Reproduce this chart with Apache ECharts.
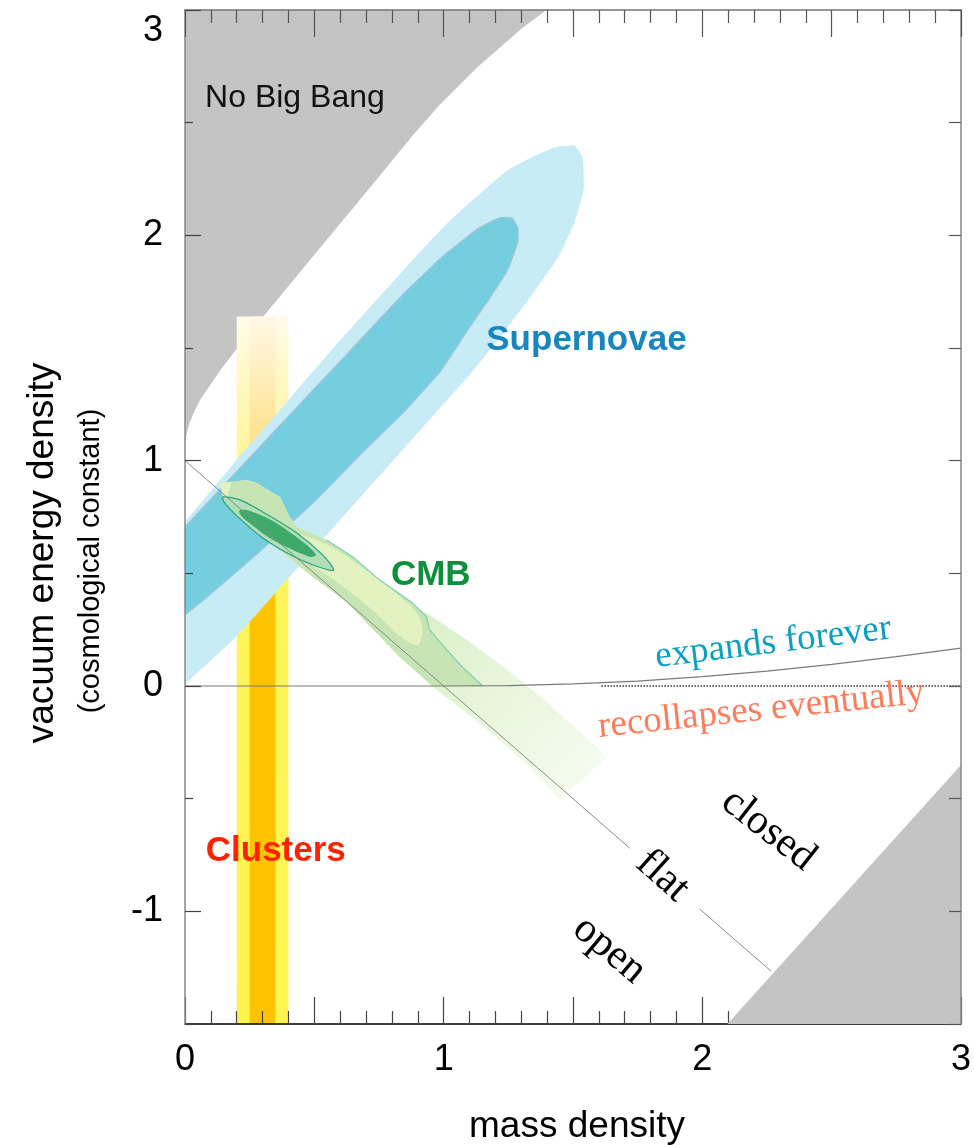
<!DOCTYPE html>
<html><head><meta charset="utf-8">
<script src="https://cdn.jsdelivr.net/npm/echarts@6/dist/echarts.min.js"></script>
<style>html,body{margin:0;padding:0;background:#fff}#c{width:974px;height:1145px}</style>
</head><body><div id="c"></div>
<script>
// ---- tick labels ----
const xTickLabels = [0, 1, 2, 3];
const yTickLabels = [-1, 0, 1, 2, 3];
const yHalfTicks = [-1.5, -0.5, 0.5, 1.5, 2.5];

// ---- regions (mass density, vacuum energy density) ----
const noBigBang = [[0,3],[0,1.079],[0.008,1.127],[0.019,1.172],[0.039,1.225],[0.058,1.269],[0.097,1.336],[0.143,1.411],[0.212,1.514],[0.378,1.744],[0.548,1.98],[0.714,2.21],[0.876,2.437],[0.985,2.579],[1.127,2.743],[1.305,2.921],[1.398,3]];
const lowerRightBound = [[2.097,-1.5],[3,-0.351],[3,-1.5]];

const clustersOuterX = [0.20, 0.40];
const clustersInnerX = [0.25, 0.35];
const clustersY = [-1.5, 1.64];

const snOuter = [[-0.05,0.665],[0,0.728],[0.174,0.968],[0.367,1.225],[0.56,1.482],[0.88,1.891],[1.023,2.064],[1.243,2.286],[1.359,2.357],[1.436,2.392],[1.506,2.397],[1.537,2.348],[1.541,2.201],[1.506,2.059],[1.448,1.913],[1.332,1.722],[1.216,1.545],[1.1,1.38],[0.869,1.083],[0.637,0.786],[0.417,0.502],[0.201,0.222],[0,0.009],[-0.05,-0.04]];
const snInner = [[-0.05,0.645],[0,0.706],[0.278,1.047],[0.456,1.265],[0.653,1.505],[0.853,1.749],[1.004,1.913],[1.131,2.028],[1.216,2.077],[1.263,2.077],[1.286,2.033],[1.286,1.971],[1.247,1.846],[1.178,1.722],[1.1,1.593],[0.985,1.394],[0.83,1.198],[0.703,1.056],[0.494,0.812],[0.251,0.559],[0,0.315],[-0.05,0.28]];

const cmbBand = [[0.135,0.901],[0.239,0.914],[0.278,0.901],[0.367,0.839],[0.405,0.75],[0.432,0.706],[0.548,0.648],[0.649,0.573],[0.753,0.47],[0.83,0.395],[0.958,0.306],[1.089,0.204],[1.216,0.098],[1.344,-0.018],[1.475,-0.151],[1.602,-0.284],[1.625,-0.32],[1.448,-0.506],[1.344,-0.373],[1.216,-0.24],[1.089,-0.12],[0.958,-0.004],[0.83,0.129],[0.625,0.373],[0.494,0.484],[0.367,0.604],[0.239,0.737],[0.147,0.826]];
const cmbOuterContour = [[0.18,0.906],[0.239,0.914],[0.278,0.901],[0.367,0.839],[0.405,0.75],[0.432,0.706],[0.548,0.648],[0.649,0.573],[0.753,0.47],[0.88,0.368],[0.934,0.306],[0.946,0.249],[1.012,0.16],[1.073,0.084],[1.151,0],[0.958,0],[0.83,0.129],[0.625,0.373],[0.494,0.484],[0.367,0.604],[0.239,0.737],[0.16,0.82]];
const cmbContourEdge = [[0.548,0.648],[0.649,0.573],[0.753,0.47],[0.88,0.368],[0.934,0.306],[0.946,0.249],[1.012,0.16],[1.073,0.084],[1.151,0]];
const cmbCore = [[0.432,0.67],[0.56,0.621],[0.676,0.533],[0.792,0.435],[0.888,0.337],[0.919,0.257],[0.9,0.182],[0.83,0.222],[0.734,0.328],[0.618,0.435],[0.521,0.515],[0.444,0.581]];
const cmb95 = [[0.147,0.839],[0.212,0.826],[0.301,0.772],[0.432,0.679],[0.533,0.581],[0.575,0.515],[0.541,0.519],[0.432,0.568],[0.301,0.657],[0.193,0.763],[0.151,0.817]];
const cmb68 = [[0.212,0.781],[0.251,0.777],[0.34,0.732],[0.471,0.626],[0.506,0.581],[0.483,0.573],[0.34,0.648],[0.239,0.732],[0.212,0.763]];

const flatLineA = [[0,1],[1.72,-0.72]];
const flatLineB = [[1.99,-0.99],[2.266,-1.266]];
const expandBoundary = [[0,0],[1,0],[1.25,0.002],[1.5,0.009],[1.75,0.022],[2,0.042],[2.25,0.066],[2.5,0.096],[2.75,0.13],[3,0.168]];
const zeroDotted = [[1.61,0],[3,0]];

const annotations = [
  {text:'No Big Bang', x:0.425, y:2.61},
  {text:'Supernovae', x:1.552, y:1.536},
  {text:'CMB', x:0.95, y:0.493},
  {text:'Clusters', x:0.351, y:-0.732},
  {text:'expands forever', x:2.274, y:0.191},
  {text:'recollapses eventually', x:2.228, y:-0.107},
  {text:'closed', x:2.255, y:-0.639},
  {text:'flat', x:1.846, y:-0.843},
  {text:'open', x:1.641, y:-1.172}
];
const annotationStyle = {
  'No Big Bang': {font:'32px "Liberation Sans"', fill:'#111', rot:0},
  'Supernovae': {font:'bold 35px "Liberation Sans"', fill:'#1a86be', rot:0},
  'CMB': {font:'bold 35px "Liberation Sans"', fill:'#0e8f3c', rot:0},
  'Clusters': {font:'bold 35px "Liberation Sans"', fill:'#ff2200', rot:0},
  'expands forever': {font:'37px "Liberation Serif"', fill:'#0aa0c2', rot:7},
  'recollapses eventually': {font:'37px "Liberation Serif"', fill:'#ff7b5a', rot:6},
  'closed': {font:'42px "Liberation Serif"', fill:'#000', rot:-38},
  'flat': {font:'42px "Liberation Serif"', fill:'#000', rot:-42},
  'open': {font:'42px "Liberation Serif"', fill:'#000', rot:-40}
};

const LG = (x, y, x2, y2, stops) => new echarts.graphic.LinearGradient(x, y, x2, y2, stops.map(s => ({offset:s[0], color:s[1]})));

function polySeries(pts, style, z, smooth) {
  return {
    type:'custom', silent:true, z:z, clip:true,
    data:[pts[0]],
    renderItem:(params, api) => ({
      type:'polygon',
      shape:{points: pts.map(p => api.coord(p)), smooth: smooth || 0},
      style: Object.assign({}, style)
    })
  };
}
function rectPts(xr, yr) { return [[xr[0], yr[1]], [xr[1], yr[1]], [xr[1], yr[0]], [xr[0], yr[0]]]; }
function lineSeries(data, color, width, type, z) {
  return {type:'line', data:data, symbol:'none', silent:true, z:z, animation:false,
    lineStyle:{color:color, width:width, type:type || 'solid'}};
}

const chart = echarts.init(document.getElementById('c'), null, {renderer:'canvas'});
const axisFont = {fontSize:36, fontFamily:'"Liberation Sans", Arial, sans-serif', color:'#000'};

const option = {
  animation:false,
  backgroundColor:'#fff',
  grid:{left:185, top:10, right:12, bottom:121, containLabel:false},
  xAxis:[
    {type:'value', position:'bottom', min:0, max:3, interval:0.5, z:4,
     axisLine:{onZero:false, lineStyle:{color:'#000', width:1.5}},
     axisTick:{inside:true, length:27, lineStyle:{color:'#444', width:1.2}},
     minorTick:{show:true, splitNumber:5, length:13, lineStyle:{color:'#444', width:1.2}},
     axisLabel:Object.assign({customValues:xTickLabels, margin:18}, axisFont),
     splitLine:{show:false}},
    {type:'value', position:'top', min:0, max:3, interval:0.5, z:7,
     axisLine:{onZero:false, lineStyle:{color:'#777', width:1.5}},
     axisTick:{inside:true, length:27, lineStyle:{color:'#555', width:1.2}},
     minorTick:{show:true, splitNumber:5, length:13, lineStyle:{color:'#555', width:1.2}},
     axisLabel:{show:false}, splitLine:{show:false}}
  ],
  yAxis:[
    {type:'value', position:'left', min:-1.5, max:3, interval:0.5, z:7,
     axisLine:{show:true, onZero:false, lineStyle:{color:'#888', width:1.5}},
     axisTick:{inside:true, length:16, customValues:yTickLabels, lineStyle:{color:'#444', width:1.2}},
     axisLabel:Object.assign({customValues:yTickLabels, margin:22,
       formatter:v => v === 3 ? '{t|3}' : String(v),
       rich:{t:Object.assign({padding:[42,0,0,0]}, axisFont)}}, axisFont),
     splitLine:{show:false}},
    {type:'value', position:'left', min:-1.5, max:3, interval:0.5, z:7,
     axisLine:{show:false},
     axisTick:{inside:true, length:8, customValues:yHalfTicks, lineStyle:{color:'#444', width:1.2}},
     axisLabel:{show:false}, splitLine:{show:false}},
    {type:'value', position:'right', min:-1.5, max:3, interval:0.5, z:7,
     axisLine:{show:true, onZero:false, lineStyle:{color:'#888', width:1.5}},
     axisTick:{inside:true, length:12, lineStyle:{color:'#555', width:1.2}},
     axisLabel:{show:false}, splitLine:{show:false}}
  ],
  graphic:[
    {type:'text', x:43, y:553, rotation:Math.PI/2, z:20,
     style:{text:'vacuum energy density', font:'37px "Liberation Sans"', fill:'#000', align:'center', verticalAlign:'middle'}},
    {type:'text', x:91, y:561, rotation:Math.PI/2, z:20,
     style:{text:'(cosmological constant)', font:'29px "Liberation Sans"', fill:'#000', align:'center', verticalAlign:'middle'}},
    {type:'text', x:577, y:1127, z:20,
     style:{text:'mass density', font:'37px "Liberation Sans"', fill:'#000', align:'center', verticalAlign:'middle'}}
  ],
  series:[
    polySeries(noBigBang, {fill:'#c4c4c4'}, 2),
    polySeries(rectPts(clustersOuterX, clustersY), {fill:LG(0,0,0,1,[[0,'#fffcec'],[0.08,'#fff8c8'],[0.2,'#fff59a'],[0.3,'#fff45a'],[1,'#fff44f']])}, 2),
    polySeries(rectPts(clustersInnerX, clustersY), {fill:LG(0,0,0,1,[[0,'#fff8e6'],[0.08,'#ffefbe'],[0.2,'#ffdf80'],[0.3,'#ffcd30'],[0.36,'#ffc400'],[1,'#ffc400']])}, 2),
    polySeries(snOuter, {fill:'#c7ecf5'}, 2, 0.15),
    polySeries(snInner, {fill:'#74cedd', stroke:'#9cc6df', lineWidth:1.5}, 2, 0.15),
    polySeries(cmbBand, {fill:LG(0,0,1,1,[[0,'#e2f3c0'],[0.45,'#d9f0c6'],[0.7,'#e8f6dc'],[1,'#f8fdf4']])}, 2),
    polySeries(cmbOuterContour, {fill:'#c6e4b4'}, 2),
    polySeries(cmbCore, {fill:'#e3f3bf'}, 2, 0.3),
    lineSeries(cmbContourEdge, '#7fd0b2', 1.2, 'solid', 2),
    polySeries(cmb95, {fill:'#b2dfb6', stroke:'#2aa384', lineWidth:1.2}, 2, 0.3),
    polySeries(cmb68, {fill:'#3daa6a'}, 2, 0.3),
    lineSeries(flatLineA, '#8a8a8a', 1, 'solid', 3),
    lineSeries(flatLineB, '#8a8a8a', 1, 'solid', 3),
    lineSeries(expandBoundary, '#7a7a7a', 1.2, 'solid', 3),
    lineSeries(zeroDotted, '#333', 1.5, 'dotted', 3),
    polySeries(lowerRightBound, {fill:'#c4c4c4'}, 6),
    {type:'custom', silent:true, z:10, clip:false,
     data:annotations.map(a => [a.x, a.y]),
     renderItem:(params, api) => {
       const a = annotations[params.dataIndex];
       const s = annotationStyle[a.text];
       const p = api.coord([a.x, a.y]);
       return {type:'text', x:p[0], y:p[1], rotation:s.rot * Math.PI / 180,
         style:{text:a.text, font:s.font, fill:s.fill, align:'center', verticalAlign:'middle', textAlign:'center', textVerticalAlign:'middle'}};
     }}
  ]
};
chart.setOption(option);
</script></body></html>
